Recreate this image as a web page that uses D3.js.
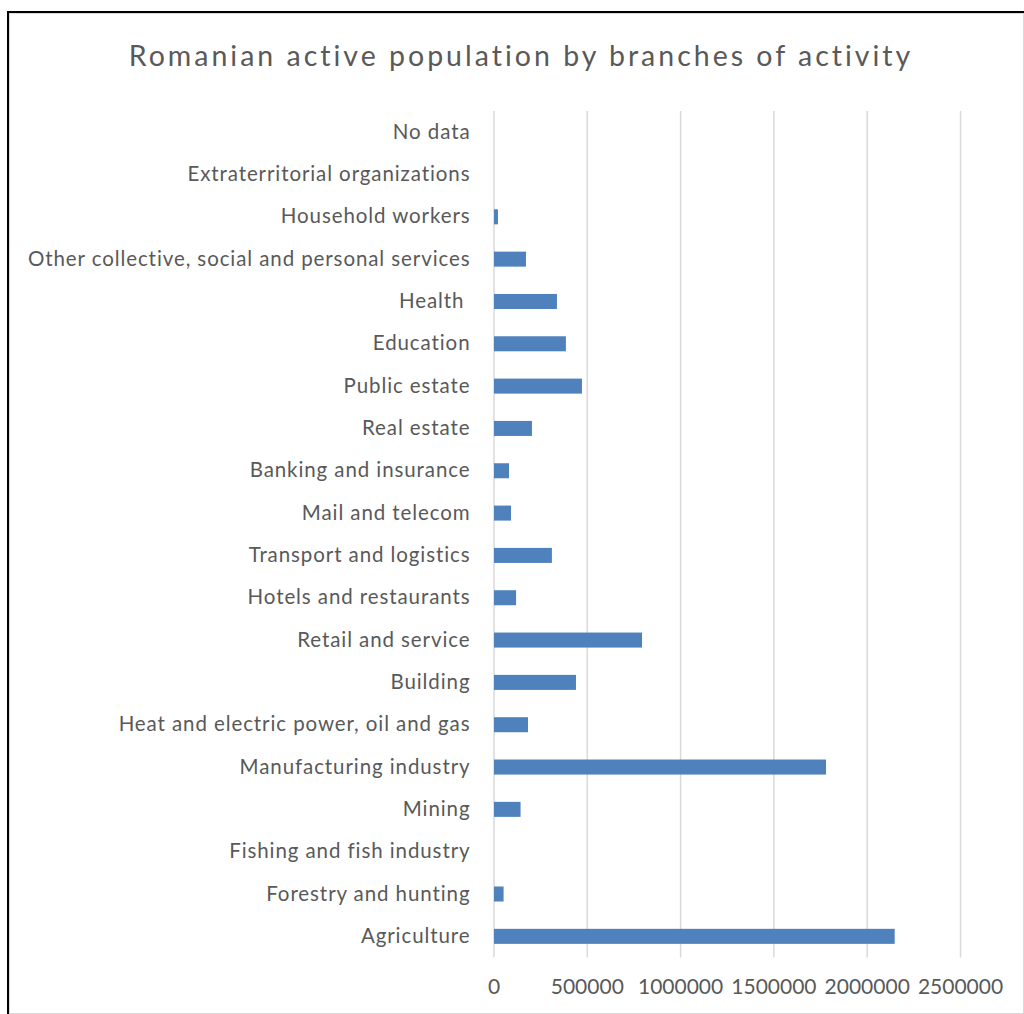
<!DOCTYPE html>
<html>
<head>
<meta charset="utf-8">
<script src="https://cdn.jsdelivr.net/npm/d3@7"></script>
<style>
  html, body { margin: 0; padding: 0; background: #ffffff; }
  svg { display: block; }
  text { font-family: Lato, "Open Sans", sans-serif; fill: #595959; white-space: pre; }
</style>
</head>
<body>
<svg id="chart" width="1024" height="1014"></svg>
<script>
// Branches of activity, listed from the bottom of the chart to the top
const categories = [
  "Agriculture",
  "Forestry and hunting",
  "Fishing and fish industry",
  "Mining",
  "Manufacturing industry",
  "Heat and electric power, oil and gas",
  "Building",
  "Retail and service",
  "Hotels and restaurants",
  "Transport and logistics",
  "Mail and telecom",
  "Banking and insurance",
  "Real estate",
  "Public estate",
  "Education",
  "Health ",
  "Other collective, social and personal services",
  "Household workers",
  "Extraterritorial organizations",
  "No data"
];

// Active population per branch (persons)
const activePopulation = [
  2150000, 54000, 0, 145000, 1782000, 185000, 442000, 796000, 121000, 313000,
  94000, 83000, 206000, 474000, 388000, 340000, 174000, 24000, 0, 0
];

const xTicks = [0, 500000, 1000000, 1500000, 2000000, 2500000];

const chartTitle = "Romanian active population by branches of activity";

const svg = d3.select("#chart");

// Frame lines along the top and left edges
svg.append("rect").attr("x", 9).attr("y", 13).attr("width", 1015).attr("height", 1001)
  .attr("fill", "none").attr("stroke", "#d9d9d9").attr("stroke-width", 2);
svg.append("line").attr("x1", 8).attr("x2", 8).attr("y1", 11).attr("y2", 1014)
  .attr("stroke", "#000").attr("stroke-width", 2);
svg.append("line").attr("x1", 7).attr("x2", 1024).attr("y1", 12).attr("y2", 12)
  .attr("stroke", "#000").attr("stroke-width", 2);

const plot = { left: 493.5, right: 960, top: 111, bottom: 957.5 };

const x = d3.scaleLinear().domain([0, 2500000]).range([plot.left, plot.right]);
const y = d3.scaleBand()
  .domain(categories.slice().reverse())
  .range([plot.top, plot.bottom])
  .paddingInner(0.645)
  .paddingOuter(0.3225);

// Spread a text's letters so it spans the given width
function fitLetterSpacing(sel, str, target) {
  const w = sel.node().getComputedTextLength();
  return (target - w) / (str.length - 1);
}

// Title
const title = svg.append("text")
  .attr("x", 521).attr("y", 66)
  .attr("text-anchor", "middle")
  .style("font-size", "28.5px")
  .style("font-weight", 400)
  .text(chartTitle);
title.style("letter-spacing", fitLetterSpacing(title, chartTitle, 783) + "px");

// Vertical gridlines and value ticks
const xAxis = d3.axisBottom(x).tickValues(xTicks).tickSize(-(plot.bottom - plot.top)).tickFormat(d3.format("d"));
const gx = svg.append("g")
  .attr("transform", `translate(0,${plot.bottom})`)
  .call(xAxis);
gx.select(".domain").remove();
gx.selectAll(".tick line").attr("stroke", "#d9d9d9").attr("stroke-width", 1.5);
gx.selectAll(".tick text")
  .attr("y", 36)
  .attr("dy", 0)
  .style("font-size", "21px")
  .style("fill", "#595959");

// Bars
svg.append("g").selectAll("rect")
  .data(categories.map((c, i) => ({ c, v: activePopulation[i] })))
  .join("rect")
  .attr("x", x(0) + 0.5)
  .attr("y", d => y(d.c))
  .attr("width", d => Math.max(0, x(d.v) - x(0) - 0.5))
  .attr("height", y.bandwidth())
  .attr("fill", "#4f81bd");

// Category labels
const yAxis = d3.axisLeft(y).tickSize(0).tickPadding(23);
const gy = svg.append("g").attr("transform", `translate(${plot.left},0)`).call(yAxis);
gy.select(".domain").remove();
const labels = gy.selectAll(".tick text")
  .style("font-size", "20.5px")
  .style("fill", "#595959")
  .style("font-family", "Lato, 'Open Sans', sans-serif");
// Use the longest label to set a common letter spacing
const longest = categories.reduce((a, b) => (b.length > a.length ? b : a));
const longestNode = labels.filter(d => d === longest);
const ls = fitLetterSpacing(longestNode, longest, 442);
labels.style("letter-spacing", ls + "px");
</script>
</body>
</html>
